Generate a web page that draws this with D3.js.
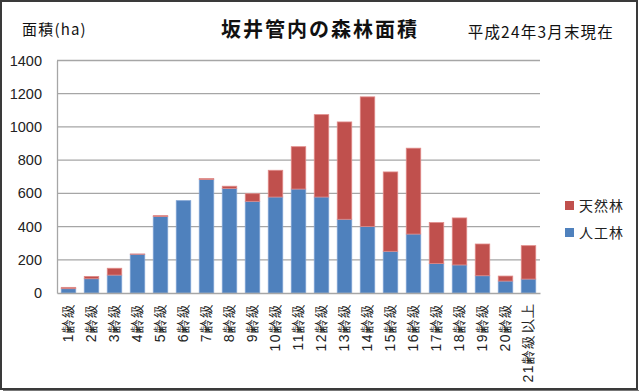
<!DOCTYPE html>
<html>
<head>
<meta charset="utf-8">
<script src="https://cdn.jsdelivr.net/npm/d3@7"></script>
<style>
  body { margin: 0; background: #fff; }
  svg { display: block; font-family: "Noto Sans CJK JP", "Noto Sans", sans-serif; }
</style>
</head>
<body>
<svg id="chart" width="640" height="392"></svg>
<script>
// 齢級ごとの森林面積 (ha)
const categories = ["1齢級", "2齢級", "3齢級", "4齢級", "5齢級", "6齢級", "7齢級", "8齢級", "9齢級", "10齢級",
  "11齢級", "12齢級", "13齢級", "14齢級", "15齢級", "16齢級", "17齢級", "18齢級", "19齢級", "20齢級", "21齢級以上"];
const planted = [26, 86, 108, 233, 460, 556, 683, 630, 552, 578, 626, 578, 444, 400, 251, 355, 177, 169, 104, 72, 84];
const natural = [8, 14, 41, 2, 6, 0, 6, 13, 46, 161, 255, 496, 586, 781, 478, 517, 247, 283, 191, 30, 201];
const yTicks = [0, 200, 400, 600, 800, 1000, 1200, 1400];
const seriesNames = ["人工林", "天然林"];
const colors = { "人工林": "#4f81bd", "天然林": "#c0504d" };
const strokes = { "人工林": "#7ea3d3", "天然林": "#e08a88" };

const svg = d3.select( "#chart" );
const W = 640, H = 392;
const margin = { left: 57, right: 100, top: 60.5, bottom: 99 };

// outer frame
svg.append( "rect" ).attr( "x", 1 ).attr( "y", 1 ).attr( "width", W - 4 ).attr( "height", H - 4 )
  .attr( "fill", "#fff" ).attr( "stroke", "#3a3a3a" ).attr( "stroke-width", 2 );
svg.append( "line" ).attr( "x1", 3 ).attr( "x2", W - 1 ).attr( "y1", H - 1.5 ).attr( "y2", H - 1.5 )
  .attr( "stroke", "#777" ).attr( "stroke-width", 1 );

let x = d3.scaleBand().domain( categories ).range( [ margin.left, W - margin.right ] ).paddingInner( 0.37 ).paddingOuter( 0.185 );
let y = d3.scaleLinear().domain( [ 0, 1400 ] ).range( [ H - margin.bottom, margin.top ] );

// gridlines
svg.append( "g" ).selectAll( "line" ).data( yTicks.filter( d => d > 0 ) ).enter().append( "line" )
  .attr( "x1", margin.left ).attr( "x2", W - margin.right )
  .attr( "y1", d => y( d ) ).attr( "y2", d => y( d ) )
  .attr( "stroke", "#a6a6a6" ).attr( "stroke-width", 1.3 );

// stacked bars
let rows = categories.map( ( c, i ) => ( { cat: c, "人工林": planted[ i ], "天然林": natural[ i ] } ) );
let stack = d3.stack().keys( seriesNames )( rows );

svg.append( "g" ).selectAll( "g" ).data( stack ).enter().append( "g" )
  .attr( "fill", d => colors[ d.key ] ).attr( "stroke", d => strokes[ d.key ] ).attr( "stroke-width", 0.8 )
  .selectAll( "rect" ).data( d => d.filter( p => p[ 1 ] > p[ 0 ] ) ).enter().append( "rect" )
  .attr( "x", d => x( d.data.cat ) )
  .attr( "width", x.bandwidth() )
  .attr( "y", d => y( d[ 1 ] ) )
  .attr( "height", d => y( d[ 0 ] ) - y( d[ 1 ] ) );

// axes
let yAxis = svg.append( "g" ).attr( "transform", "translate(" + margin.left + ",0)" )
  .call( d3.axisLeft( y ).tickValues( yTicks ).tickFormat( d3.format( "d" ) ).tickSize( 0 ).tickPadding( 15 ) );
yAxis.select( ".domain" ).attr( "stroke", "#a6a6a6" ).attr( "stroke-width", 1.3 );
yAxis.selectAll( "text" ).attr( "font-size", 14.5 ).attr( "fill", "#222" ).attr( "font-family", "'Liberation Sans', 'Noto Sans', sans-serif" );

let xAxis = svg.append( "g" ).attr( "transform", "translate(0," + ( H - margin.bottom ) + ")" )
  .call( d3.axisBottom( x ).tickSize( 0 ).tickPadding( 0 ) );
xAxis.select( ".domain" ).attr( "stroke", "#a6a6a6" ).attr( "stroke-width", 1.3 );
xAxis.selectAll( "text" )
  .attr( "font-size", 14 ).attr( "fill", "#222" ).attr( "letter-spacing", 1.5 )
  .attr( "transform", "rotate(-90)" )
  .attr( "text-anchor", "end" )
  .attr( "x", -9 ).attr( "y", 0 ).attr( "dy", "0.35em" );

// titles
svg.append( "text" ).attr( "x", 320 ).attr( "y", 37 ).attr( "text-anchor", "middle" )
  .attr( "font-size", 20 ).attr( "letter-spacing", 2 ).attr( "font-weight", "bold" ).attr( "fill", "#111" ).text( "坂井管内の森林面積" );
svg.append( "text" ).attr( "x", 22 ).attr( "y", 35 ).attr( "font-size", 15 ).attr( "letter-spacing", 1.2 ).attr( "fill", "#111" ).text( "面積(ha)" );
svg.append( "text" ).attr( "x", 614 ).attr( "y", 38 ).attr( "text-anchor", "end" ).attr( "font-size", 15.5 ).attr( "letter-spacing", 1.2 ).attr( "fill", "#111" ).text( "平成24年3月末現在" );

// legend
let legend = svg.append( "g" ).selectAll( "g" ).data( [ "天然林", "人工林" ] ).enter().append( "g" )
  .attr( "transform", ( d, i ) => "translate(565," + ( 201 + i * 27 ) + ")" );
legend.append( "rect" ).attr( "width", 9 ).attr( "height", 9 ).attr( "fill", d => colors[ d ] );
legend.append( "text" ).attr( "x", 14 ).attr( "y", 5 ).attr( "dy", "0.35em" ).attr( "font-size", 14 ).attr( "letter-spacing", 1 ).attr( "fill", "#222" ).text( d => d );
</script>
</body>
</html>
